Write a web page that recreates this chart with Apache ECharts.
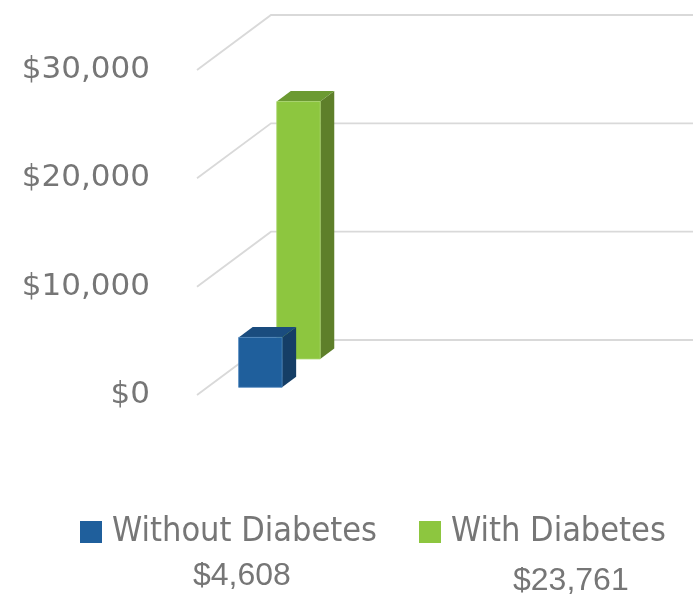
<!DOCTYPE html>
<html>
<head>
<meta charset="utf-8">
<script src="https://cdn.jsdelivr.net/npm/echarts@6/dist/echarts.min.js"></script>
<style>
html,body{margin:0;padding:0;background:#fff;}
#chart{width:693px;height:596px;}
</style>
</head>
<body>
<div id="chart"></div>
<script>
// ---- data ----
var categories = ['Annual cost'];
var seriesNames = ['Without Diabetes', 'With Diabetes'];
var withoutDiabetes = [4608];
var withDiabetes = [23761];
var yTicks = [0, 10000, 20000, 30000];

// ---- style constants ----
var DX = 74, DY = -55;          // full floor depth vector (px)
var DEPTH_START = 0.14, DEPTH_STEP = 0.515, DEPTH_THICK = 0.19;
var BAR_RATIO = 0.41;
var colorsBlue = { front: '#1F5F9C', side: '#153E66', top: '#1A4C7E', edge: '#4F86BE' };
var colorsGreen = { front: '#8DC63F', side: '#5E7F2A', top: '#6C9A32', edge: '#A9D66E' };
var textGray = '#767676';

function fmt(v) { return '$' + v.toLocaleString('en-US'); }

function makeBarRender(depthIndex, col) {
  return function (params, api) {
    var c0 = api.coord([api.value(0), 0]);
    var c1 = api.coord([api.value(0), api.value(1)]);
    var band = api.size([1, 0])[0];
    var w = band * BAR_RATIO;
    var d0 = DEPTH_START + depthIndex * DEPTH_STEP;
    var ox = DX * d0, oy = DY * d0;
    var ddx = DX * DEPTH_THICK, ddy = DY * DEPTH_THICK;
    var xl = c0[0] - w / 2 + ox, xr = c0[0] + w / 2 + ox;
    var yt = c1[1] + oy, yb = c0[1] + oy;
    return {
      type: 'group',
      children: [
        { type: 'polygon', shape: { points: [[xr, yt], [xr + ddx, yt + ddy], [xr + ddx, yb + ddy], [xr, yb]] },
          style: { fill: col.side } },
        { type: 'polygon', shape: { points: [[xl, yt], [xr, yt], [xr + ddx, yt + ddy], [xl + ddx, yt + ddy]] },
          style: { fill: col.top } },
        { type: 'rect', shape: { x: xl, y: yt, width: w, height: yb - yt },
          style: { fill: col.front, stroke: col.edge, lineWidth: 0.8 } }
      ]
    };
  };
}

function gridRender(params, api) {
  var p = api.coord([0, api.value(1)]);
  var gx = params.coordSys.x;
  var y = p[1];
  return {
    type: 'polyline',
    shape: { points: [[gx, y], [gx + DX, y + DY], [api.getWidth(), y + DY]] },
    style: { stroke: '#D9D9D9', lineWidth: 1.8, fill: null }
  };
}

var chart = echarts.init(document.getElementById('chart'));
var option = {
  animation: false,
  backgroundColor: '#ffffff',
  grid: { left: 197, top: 70, height: 325, right: 390 },
  xAxis: { type: 'category', data: categories, show: false },
  yAxis: {
    type: 'value', min: 0, max: 30000, interval: 10000,
    axisLine: { show: false }, axisTick: { show: false }, splitLine: { show: false },
    axisLabel: { formatter: function (v) { return fmt(v); }, fontFamily: 'DejaVu Sans', fontSize: 31,
      color: textGray, margin: 47 }
  },
  legend: {
    data: seriesNames,
    left: 80, top: 515, padding: 0,
    itemWidth: 22, itemHeight: 22, itemGap: 42,
    icon: 'rect',
    textStyle: { fontFamily: 'DejaVu Sans Condensed', fontSize: 34, color: textGray, padding: [0, 0, 0, 5] }
  },
  graphic: [
    { type: 'text', left: 193, top: 560, style: { text: fmt(withoutDiabetes[0]), font: '32px "Liberation Sans"', fill: textGray } },
    { type: 'text', left: 513, top: 565, style: { text: fmt(withDiabetes[0]), font: '32px "Liberation Sans"', fill: textGray } }
  ],
  series: [
    { type: 'custom', name: 'grid', silent: true, z: 1, clip: false, renderItem: gridRender,
      data: yTicks.map(function (t) { return [0, t]; }), legendHoverLink: false },
    { type: 'custom', name: seriesNames[0], z: 4, clip: false, color: colorsBlue.front,
      renderItem: makeBarRender(0, colorsBlue),
      data: withoutDiabetes.map(function (v, i) { return [i, v]; }) },
    { type: 'custom', name: seriesNames[1], z: 3, clip: false, color: colorsGreen.front,
      renderItem: makeBarRender(1, colorsGreen),
      data: withDiabetes.map(function (v, i) { return [i, v]; }) }
  ]
};
chart.setOption(option);
</script>
</body>
</html>
